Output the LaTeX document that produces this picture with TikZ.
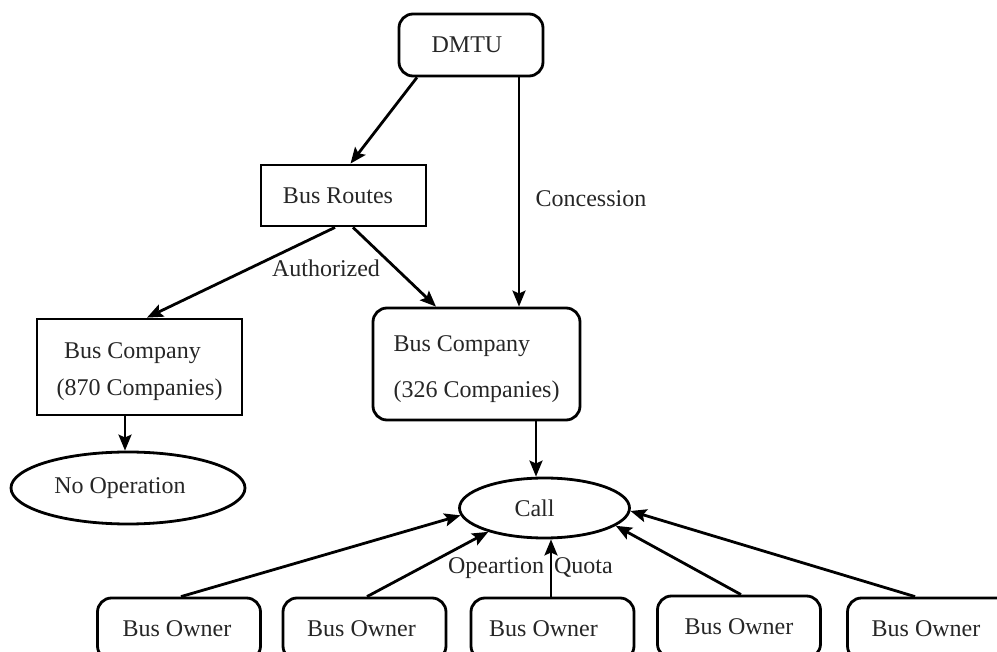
\documentclass[tikz,border=0pt]{standalone}
\usepackage{fontspec}
\setmainfont{Liberation Serif}
\usetikzlibrary{arrows.meta,shapes.geometric}
% shift a node's text left by half the given amount
\newcommand{\nudge}[1]{\hspace*{-#1}}
\begin{document}
\begin{tikzpicture}[x=1pt,y=-1pt,
  every node/.style={font=\fontsize{24}{28}\selectfont, inner sep=0pt, text=black!85},
  box/.style={draw, line width=2.8pt, rectangle},
  rbox/.style={box, rounded corners=14pt},
  oval/.style={draw, line width=2.8pt, ellipse},
  arr/.style={line width=2.8pt, -{Stealth[length=16pt,width=13pt,inset=3pt]}}]
\useasboundingbox (0,0) rectangle (997,652);
\clip (0,0) rectangle (997,652);

% authority and route level
\node[rbox, minimum width=144, minimum height=62] (dmtu) at (471,45) {\nudge{8pt}DMTU};
\node[box, minimum width=165, minimum height=61] (routes) at (343.5,195.5) {\nudge{11pt}Bus Routes};

% bus companies
\node[box, minimum width=205, minimum height=96, align=center,
      font=\fontsize{24}{37}\selectfont] (bcl) at (139.5,367)
  {\rule{0pt}{25pt}\nudge{14pt}Bus Company\\(870 Companies)};
\node[rbox, minimum width=207, minimum height=112, align=left,
      font=\fontsize{24}{46}\selectfont] (bcr) at (476.5,364)
  {\rule{0pt}{26pt}Bus Company\\(326 Companies)};

% outcomes
\node[oval, minimum width=234, minimum height=72] (noop) at (128,488) {\nudge{16pt}No Operation};
\node[oval, minimum width=170, minimum height=60] (call) at (544.5,508) {\nudge{20pt}Call};

% bus owners along the bottom
\node[rbox, minimum width=163, minimum height=62] (own1) at (179,629) {\nudge{4pt}Bus Owner};
\node[rbox, minimum width=163, minimum height=62] (own2) at (364.5,629) {\nudge{6pt}Bus Owner};
\node[rbox, minimum width=163, minimum height=62] (own3) at (552.5,629) {\nudge{18pt}Bus Owner};
\node[rbox, minimum width=163, minimum height=62] (own4) at (739,627) {Bus Owner};
\node[rbox, minimum width=163, minimum height=62] (own5) at (929,629) {\nudge{6pt}Bus Owner};

% edge labels
\node (lconc) at (591,199) {Concession};
\node (lauth) at (326,268) {Authorized};
\node (lquota) at (530.4,568) {Opeartion\hspace{10pt}Quota};

% connectors
\draw[arr] ([xshift=-54pt]dmtu.south) -- ([xshift=7pt]routes.north);
\draw[arr] ([xshift=48pt]dmtu.south) -- ([xshift=42.5pt]bcr.north);
\draw[arr] ([xshift=-8.5pt]routes.south) -- ([xshift=7.5pt]bcl.north);
\draw[arr] ([xshift=9.5pt]routes.south) -- ([xshift=-40.5pt]bcr.north);
\draw[arr] ([xshift=-14.5pt]bcl.south) -- ([xshift=-3pt]noop.north);
\draw[arr] ([xshift=59.5pt]bcr.south) -- ([xshift=-8.5pt]call.north);

\draw[arr] ([xshift=2pt]own1.north) -- (call.185);
\draw[arr] ([xshift=2.5pt]own2.north) -- (call.203);
\draw[arr] ([xshift=-1.5pt]own3.north) -- ([xshift=6.5pt]call.south);
\draw[arr] ([xshift=2pt]own4.north) -- (call.346);
\draw[arr] ([xshift=-14pt]own5.north) -- (call.358.6);
\end{tikzpicture}
\end{document}
